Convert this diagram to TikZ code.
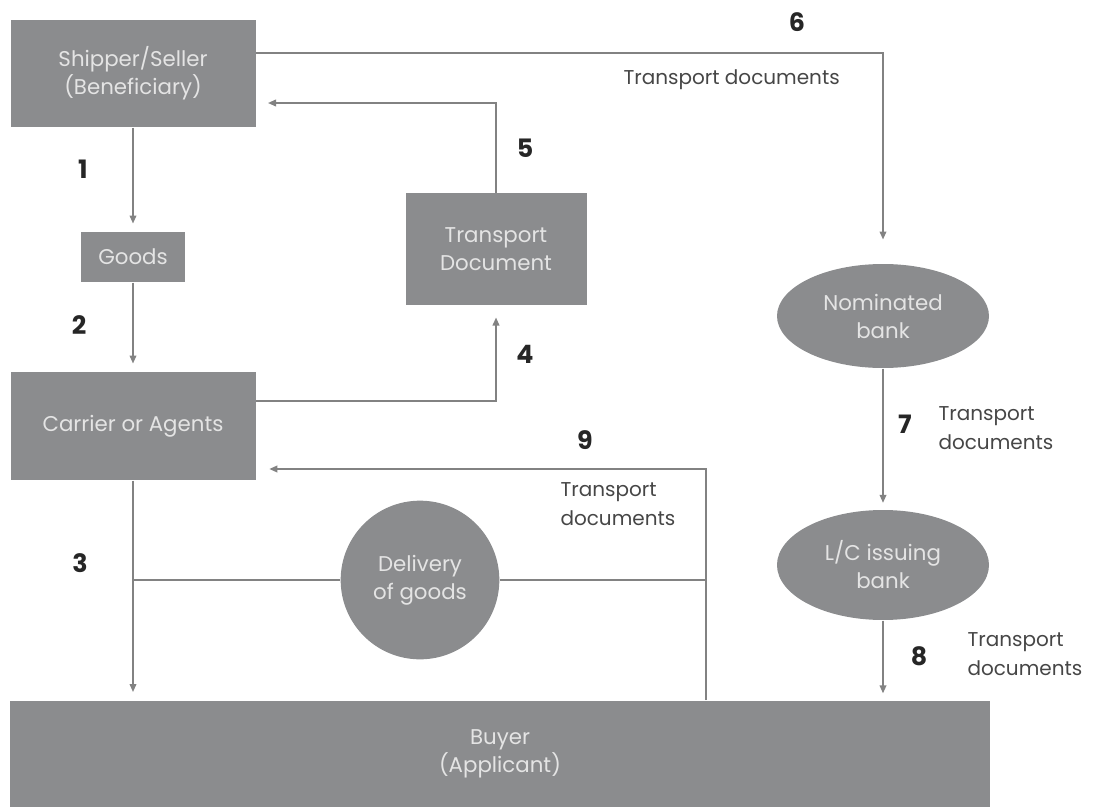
\documentclass[tikz,border=0pt]{standalone}
\usepackage{fontspec}
\setmainfont{Poppins}
\usetikzlibrary{arrows.meta,shapes.geometric}

\definecolor{boxgray}{RGB}{139,140,142}
\definecolor{linegray}{RGB}{130,130,130}
\definecolor{txtlight}{RGB}{228,228,228}
\definecolor{txtdark}{RGB}{70,70,70}

\tikzset{every picture/.style={line width=0.75pt}}
\tikzset{
  party/.style={rectangle, fill=boxgray, text=txtlight, align=center, inner sep=0pt, font=\fontsize{16}{21}\selectfont},
  bank/.style={ellipse, fill=boxgray, text=txtlight, align=center, inner sep=0pt, font=\fontsize{16}{21}\selectfont},
  flow/.style={draw=linegray, line width=1.2pt},
  flowarr/.style={flow, -{Triangle[length=6pt,width=5pt]}},
  stepno/.style={inner sep=0.75pt, text=black!85, font=\fontsize{19}{22}\selectfont\bfseries},
  doclabel/.style={inner sep=0.75pt, anchor=west, align=left, text=txtdark, font=\fontsize{15}{21.5}\selectfont}
}

\begin{document}
\begin{tikzpicture}[x=0.75pt,y=0.75pt,yscale=-1,xscale=1]
\useasboundingbox (0,0) rectangle (1108,807);

%Boxes and bank shapes
\node [party, minimum width=183.75pt, minimum height=80.25pt] (ship) at (133,73.5) {Shipper/Seller\\(Beneficiary)};
\node [party, minimum width=78pt, minimum height=37.5pt] (goods) at (133,257) {Goods};
\node [party, minimum width=183.75pt, minimum height=81pt] (carrier) at (133,426) {Carrier or Agents};
\node [party, minimum width=135.75pt, minimum height=84pt] (tdoc) at (496,249) {Transport\\Document};
\node [bank, minimum width=159pt, minimum height=78pt] (nom) at (883,316) {Nominated\\bank};
\node [bank, minimum width=159pt, minimum height=82.5pt] (lc) at (883,565) {L/C issuing\\bank};
\node [bank, circle, minimum size=119pt] (dlv) at (420,580) {Delivery\\of goods};
\node [party, minimum width=735pt, minimum height=80.25pt] (buyer) at (500,754) {Buyer\\(Applicant)};

%Bend points
\coordinate (c6) at (883,53);
\coordinate (c5) at (496,103);
\coordinate (c4) at (496,401);
\coordinate (c9) at (706,469);

%Connectors
\draw [flowarr, shorten >=6pt] (ship.south) -- (goods.north);
\draw [flowarr, shorten >=6pt] (goods.south) -- (carrier.north);
\draw [flowarr, shorten >=6pt] (carrier.south) -- (carrier.south |- buyer.north);
\draw [flow] (carrier.south |- dlv.west) -- (dlv.west);
\draw [flow] (dlv.east) -- (dlv.east -| c9);
\draw [flowarr, shorten >=10pt] (buyer.north -| c9) |- (carrier.east |- c9);
\draw [flowarr, shorten >=9pt] (carrier.east |- c4) -| (tdoc.south);
\draw [flowarr, shorten >=9pt] (tdoc.north) |- (ship.east |- c5);
\draw [flowarr, shorten >=18pt] (ship.east |- c6) -| (nom.north);
\draw [flowarr, shorten >=5pt] (nom.south) -- (lc.north);
\draw [flowarr, shorten >=5pt] (lc.south) -- (lc.south |- buyer.north);

% Text Node
\node [stepno] (n1) at (83,169) {1};
% Text Node
\node [stepno] (n2) at (79,325) {2};
% Text Node
\node [stepno] (n3) at (80,563) {3};
% Text Node
\node [stepno] (n4) at (525,354) {4};
% Text Node
\node [stepno] (n5) at (525,148) {5};
% Text Node
\node [stepno] (n6) at (797,22) {6};
% Text Node
\node [stepno] (n7) at (905,424) {7};
% Text Node
\node [stepno] (n8) at (919,656) {8};
% Text Node
\node [stepno] (n9) at (585,440) {9};
% Text Node
\node [doclabel] (t6) at (622,80) {Transport documents};
% Text Node
\node [doclabel] (t7) at (937,428) {Transport\\documents};
% Text Node
\node [doclabel] (t8) at (966,654) {Transport\\documents};
% Text Node
\node [doclabel] (t9) at (559,504) {Transport\\documents};

\end{tikzpicture}
\end{document}
